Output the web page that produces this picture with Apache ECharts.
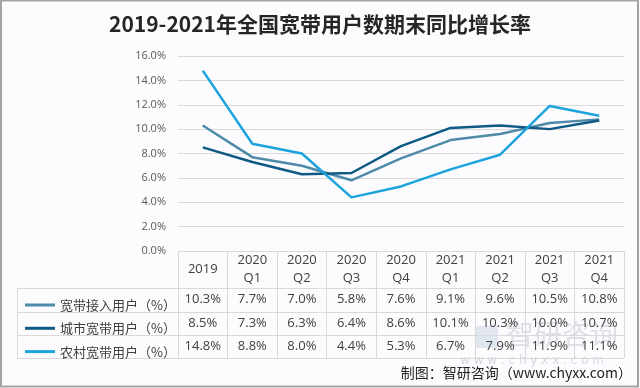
<!DOCTYPE html>
<html><head><meta charset="utf-8">
<script src="https://cdn.jsdelivr.net/npm/echarts@6/dist/echarts.min.js"></script>
<style>html,body{margin:0;padding:0;background:#fcfcfe}#c{width:640px;height:388px}</style>
</head><body><div id="c"></div>
<script>
// ---- data ----
const categories = ['2019', '2020\nQ1', '2020\nQ2', '2020\nQ3', '2020\nQ4', '2021\nQ1', '2021\nQ2', '2021\nQ3', '2021\nQ4'];
const seriesNames = ['宽带接入用户（%）', '城市宽带用户（%）', '农村宽带用户（%）'];
const broadband = [10.3, 7.7, 7.0, 5.8, 7.6, 9.1, 9.6, 10.5, 10.8];
const urban = [8.5, 7.3, 6.3, 6.4, 8.6, 10.1, 10.3, 10.0, 10.7];
const rural = [14.8, 8.8, 8.0, 4.4, 5.3, 6.7, 7.9, 11.9, 11.1];
const yMin = 0, yMax = 16, yStep = 2;
const titleText = '2019-2021年全国宽带用户数期末同比增长率';
const sourceText = '制图：智研咨询（www.chyxx.com）';

// ---- layout / style ----
const colors = ['#4f8aa8', '#0e5a84', '#1ca3dd'];
const allSeries = [broadband, urban, rural];
const gridLeft = 178, gridRight = 16, gridTop = 56, gridBottom = 137;
const axisY = 388 - gridBottom;          // 251
const headerH = 37, rowHs = [24, 23, 23];
const tableLeft = 17, tableRight = 640 - gridRight;
const lineColor = '#d9d9d9';

const chart = echarts.init(document.getElementById('c'), null, {renderer: 'canvas'});

const rowYs = [axisY + headerH];
rowHs.forEach((h, i) => rowYs.push(rowYs[i] + h));
const tableBottom = rowYs[rowYs.length - 1];

const graphics = [
  {type: 'rect', shape: {x: 1, y: 0.5, width: 637, height: 386}, style: {fill: 'none', stroke: '#a3a3a3', lineWidth: 2}, silent: true},
  {type: 'line', shape: {x1: tableLeft + 0.5, y1: rowYs[0], x2: tableLeft + 0.5, y2: tableBottom}, style: {stroke: lineColor, lineWidth: 1}},
  // watermark
  {type: 'text', left: 506, top: 320, style: {text: '智研咨询', font: '28px "Noto Sans CJK SC"', fill: 'rgba(140,150,165,0.28)'}},
  {type: 'rect', shape: {x: 476, y: 326, width: 22, height: 22}, style: {fill: 'rgba(120,150,190,0.2)'}},
  {type: 'text', left: 460, top: 355, style: {text: 'w w w . c h y x x . c o m', font: '12px "DejaVu Sans"', fill: 'rgba(140,150,165,0.35)'}},
  {type: 'text', right: 8, top: 366, style: {text: sourceText, font: '14px "Noto Sans CJK SC"', fill: '#222'}}
];
rowYs.forEach(y => graphics.push({type: 'line', shape: {x1: tableLeft, y1: y + 0.5, x2: tableRight, y2: y + 0.5}, style: {stroke: lineColor, lineWidth: 1}}));

chart.setOption({
  backgroundColor: '#fcfcfe',
  animation: false,
  title: {
    text: titleText, left: 'center', top: 9,
    textStyle: {fontSize: 21, fontWeight: 'bold', color: '#262626', fontFamily: '"Noto Sans CJK SC"'}
  },
  legend: {
    orient: 'vertical', left: 20, top: rowYs[0] + 5, itemGap: 9.3,
    itemWidth: 30, itemHeight: 3, icon: 'rect',
    textStyle: {fontSize: 13, color: '#404040', lineHeight: 14, fontFamily: '"Noto Sans CJK SC"'},
    data: seriesNames
  },
  grid: {left: gridLeft, right: gridRight, top: gridTop, bottom: gridBottom},
  xAxis: {
    type: 'category', data: categories, boundaryGap: true,
    axisLine: {show: true, lineStyle: {color: lineColor}},
    axisTick: {show: true, length: tableBottom - axisY, lineStyle: {color: lineColor}},
    axisLabel: {
      interval: 0, margin: 0, color: '#404040', fontSize: 13, fontFamily: '"Open Sans", "Noto Sans CJK SC"',
      formatter: (v, i) => {
        const head = v.indexOf('\n') >= 0 ? '{h2|' + v + '}' : '{h1|' + v + '}';
        return head + '\n' + allSeries.map(s => '{v|' + s[i].toFixed(1) + '%}').join('\n');
      },
      rich: {
        h1: {lineHeight: headerH, fontSize: 13, color: '#404040'},
        h2: {lineHeight: headerH / 2, fontSize: 13, color: '#404040'},
        v: {lineHeight: 23.3, fontSize: 13, color: '#404040'}
      }
    }
  },
  yAxis: {
    type: 'value', min: yMin, max: yMax, interval: yStep,
    axisLine: {show: false}, axisTick: {show: false},
    axisLabel: {margin: 12, color: '#595959', fontSize: 11, fontFamily: '"Open Sans"', formatter: v => v.toFixed(1) + '%'},
    splitLine: {lineStyle: {color: lineColor}}
  },
  series: seriesNames.map((n, k) => ({
    name: n, type: 'line', data: allSeries[k], symbol: 'none',
    lineStyle: {width: 2.5, color: colors[k]}, itemStyle: {color: colors[k]}, z: 3 + k
  })),
  graphic: graphics
});
</script></body></html>
